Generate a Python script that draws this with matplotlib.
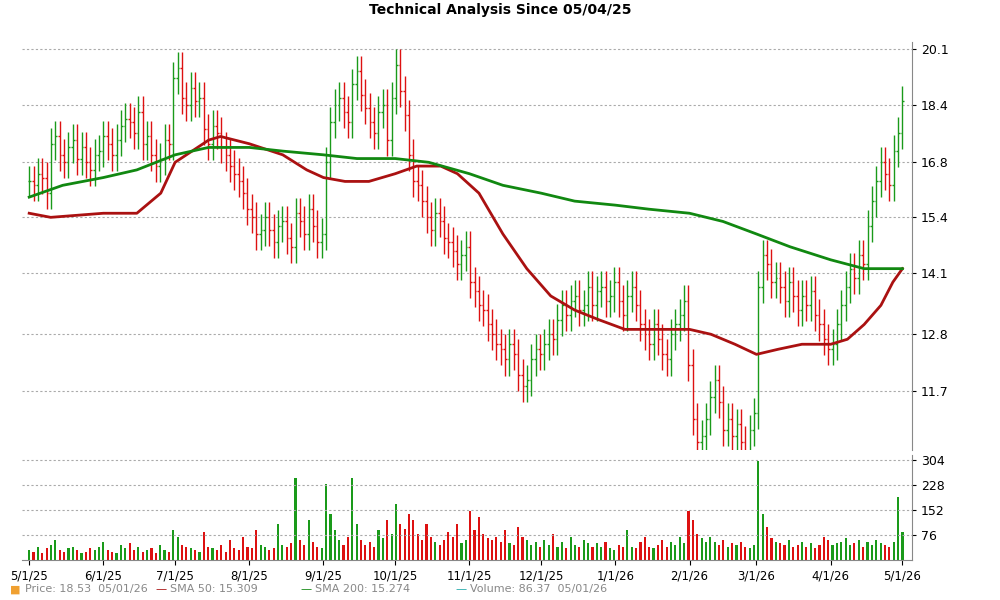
import numpy as np
import pandas as pd
import matplotlib.pyplot as plt
import matplotlib.dates as mdates

# daily closes, grouped roughly by week
close = [
    16.3, 16.2, 16.5, 16.4, 16.0,
    17.3, 17.5, 17.0, 16.8, 17.2, 17.4,
    16.9, 17.2, 16.8, 16.6, 17.0,
    17.1, 17.5, 17.3, 17.0, 17.4,
    17.8, 18.0, 17.9, 17.6, 18.2,
    17.3, 17.5, 17.0, 16.7, 16.9, 17.4, 17.3,
    19.2, 19.5, 18.6, 18.4, 18.9,
    18.5, 18.6, 17.7, 17.3, 17.8,
    17.6, 17.2, 17.0, 16.7, 16.5, 16.3,
    16.0, 15.6, 15.4, 15.0, 15.1,
    15.4, 15.1, 14.8, 15.2, 15.3, 14.9,
    14.7, 15.5, 15.3, 15.0, 15.6, 15.2, 14.8, 15.0,
    16.8, 17.9, 18.4, 18.6, 18.2,
    17.9, 19.0, 19.4, 18.7, 18.3,
    17.9, 17.6, 18.2, 18.4, 17.4, 18.6,
    19.6, 18.8, 18.1, 17.0, 16.3,
    16.2, 15.8, 15.4, 15.1, 15.5, 15.3,
    14.9, 14.8, 14.6, 14.3, 14.5, 14.7,
    13.9, 13.7, 13.4, 13.3, 13.0,
    12.8, 12.6, 12.5, 12.3, 12.6, 12.4,
    12.0, 11.8, 11.9, 12.3, 12.5, 12.4,
    12.6, 12.8, 12.7, 13.1, 13.4, 13.2,
    13.5, 13.6, 13.3, 13.4, 13.8, 13.4,
    13.7, 13.8, 13.5, 13.6, 13.9,
    13.5, 13.2, 13.6, 13.8, 13.4,
    13.0, 12.8, 12.6, 13.0, 12.7,
    12.4, 12.3, 12.8, 13.0, 13.2, 13.5,
    12.2, 11.2, 10.8, 10.9, 11.2,
    11.6, 11.9, 11.5, 11.0, 11.2,
    10.9, 11.1, 10.8, 10.6, 11.0, 11.3,
    13.8, 14.5, 14.3, 13.9, 14.0,
    13.8, 13.5, 13.9, 13.6, 13.3,
    13.6, 13.4, 13.7, 13.2, 13.0,
    12.7, 12.5, 12.6, 13.0, 13.4,
    13.8, 14.2, 14.0, 14.5, 14.3,
    15.2, 15.8, 16.3, 16.8, 16.5, 16.2, 17.1,
    17.6, 18.5,
]
volume = [
    30, 25, 40, 20, 35,
    45, 60, 30, 25, 35, 40,
    30, 20, 25, 35, 30,
    40, 55, 30, 25, 20,
    45, 35, 50, 30, 40,
    25, 30, 35, 20, 45, 30, 25,
    90, 70, 45, 40, 35,
    30, 25, 85, 40, 35,
    30, 45, 25, 60, 35, 30,
    70, 40, 35, 90, 45,
    40, 30, 35, 110, 45, 40,
    50, 250, 60, 45, 120, 55, 40, 35,
    230, 140, 90, 60, 45,
    70, 250, 110, 60, 45,
    55, 40, 90, 65, 120, 80,
    170, 110, 95, 140, 120,
    80, 60, 110, 70, 55, 45,
    60, 85, 70, 110, 50, 60,
    150, 90, 130, 80, 65,
    60, 70, 55, 90, 50, 45,
    100, 70, 60, 45, 55, 40,
    60, 45, 80, 40, 55, 35,
    70, 45, 40, 60, 50, 40,
    50, 40, 55, 35, 30,
    45, 40, 90, 40, 35,
    55, 70, 40, 35, 45,
    60, 40, 55, 45, 70, 50,
    150, 120, 80, 65, 55,
    70, 55, 45, 60, 40,
    50, 45, 55, 40, 35, 45,
    300, 140, 100, 65, 55,
    50, 45, 60, 40, 45,
    55, 40, 50, 35, 45,
    70, 60, 45, 50, 55,
    65, 45, 50, 60, 40,
    55, 45, 60, 50, 45, 40, 55,
    190, 86,
]

sma50_dates = ["2025-05-01", "2025-05-10", "2025-06-01", "2025-06-15", "2025-06-25",
               "2025-07-01", "2025-07-15", "2025-07-20", "2025-08-01", "2025-08-15",
               "2025-08-25", "2025-09-01", "2025-09-10", "2025-09-20", "2025-10-01",
               "2025-10-10", "2025-10-20", "2025-10-27", "2025-11-05", "2025-11-15",
               "2025-11-25", "2025-12-05", "2025-12-15", "2025-12-25", "2026-01-05",
               "2026-01-15", "2026-02-01", "2026-02-10", "2026-02-20", "2026-03-01",
               "2026-03-10", "2026-03-20", "2026-04-01", "2026-04-08", "2026-04-15",
               "2026-04-22", "2026-04-27", "2026-05-01"]
sma50 = [15.5, 15.4, 15.5, 15.5, 16.0, 16.8, 17.4, 17.5, 17.3, 17.0,
         16.6, 16.4, 16.3, 16.3, 16.5, 16.7, 16.7, 16.5, 16.0, 15.0,
         14.2, 13.6, 13.3, 13.1, 12.9, 12.9, 12.9, 12.8, 12.6, 12.4,
         12.5, 12.6, 12.6, 12.7, 13.0, 13.4, 13.9, 14.2]
sma200_dates = ["2025-05-01", "2025-05-15", "2025-06-01", "2025-06-15", "2025-07-01",
                "2025-07-15", "2025-08-01", "2025-08-15", "2025-09-01", "2025-09-15",
                "2025-10-01", "2025-10-15", "2025-11-01", "2025-11-15", "2025-12-01",
                "2025-12-15", "2026-01-01", "2026-01-15", "2026-02-01", "2026-02-15",
                "2026-03-01", "2026-03-15", "2026-04-01", "2026-04-15", "2026-05-01"]
sma200 = [15.9, 16.2, 16.4, 16.6, 17.0, 17.2, 17.2, 17.1, 17.0, 16.9,
          16.9, 16.8, 16.5, 16.2, 16.0, 15.8, 15.7, 15.6, 15.5, 15.3,
          15.0, 14.7, 14.4, 14.2, 14.2]

n = len(close)
t0 = pd.Timestamp("2025-05-01").value
t1 = pd.Timestamp("2026-05-01").value
dates = pd.to_datetime(np.linspace(t0, t1, n))
x = mdates.date2num(dates)
c = np.array(close)
o = np.r_[c[0], c[:-1]]
hi = np.maximum(o, c) * 1.025
lo = np.minimum(o, c) * 0.975
up = c >= o
col = np.where(up, "#1a9a1a", "#dd1111")

fig = plt.figure(figsize=(10, 6), dpi=100)
ax = fig.add_axes([0.022, 0.25, 0.89, 0.68])
av = fig.add_axes([0.022, 0.067, 0.89, 0.175], sharex=ax)

ax.set_yscale("log")
ax.vlines(x, lo, hi, colors=col, lw=1)
ax.hlines(o, x - 0.7, x, colors=col, lw=1)
ax.hlines(c, x, x + 0.7, colors=col, lw=1)
ax.plot(mdates.date2num(pd.to_datetime(sma50_dates)), sma50, color="#aa1111", lw=2)
ax.plot(mdates.date2num(pd.to_datetime(sma200_dates)), sma200, color="#118811", lw=2)

yt = [11.7, 12.8, 14.1, 15.4, 16.8, 18.4, 20.1]
ax.set_ylim(10.66, 20.32)
ax.set_yticks(yt)
ax.set_yticklabels([str(v) for v in yt])
ax.set_yticks([], minor=True)
ax.yaxis.tick_right()
ax.grid(axis="y", color="#aaaaaa", ls=(0, (2, 2)), lw=0.8)
ax.tick_params(axis="x", labelbottom=False, length=0)
ax.tick_params(axis="y", labelsize=9, length=3)
for s in ["top", "left", "bottom"]:
    ax.spines[s].set_visible(False)
ax.spines["right"].set_color("#888888")

av.bar(x, volume, width=0.9, color=col)
av.set_ylim(0, 320)
av.set_yticks([76, 152, 228, 304])
av.yaxis.tick_right()
av.grid(axis="y", color="#aaaaaa", ls=(0, (2, 2)), lw=0.8)
av.tick_params(axis="y", labelsize=9, length=3)
for s in ["top", "left"]:
    av.spines[s].set_visible(False)
av.spines["right"].set_color("#888888")
av.spines["bottom"].set_color("#888888")
xt = pd.date_range("2025-05-01", "2026-05-01", freq="MS")
av.set_xticks(mdates.date2num(xt))
av.set_xticklabels([f"{d.month}/1/{d.strftime('%y')}" for d in xt], fontsize=8.5)
av.set_xlim(mdates.date2num(pd.Timestamp("2025-04-28")), mdates.date2num(pd.Timestamp("2026-05-05")))

fig.suptitle("Technical Analysis Since 05/04/25", y=0.995, fontsize=10, fontweight="bold")

legend = [("■", "#f0a030", "Price: 18.53  05/01/26", 0.01),
          ("—", "#aa1111", "SMA 50: 15.309", 0.155),
          ("—", "#118811", "SMA 200: 15.274", 0.30),
          ("—", "#22aaaa", "Volume: 86.37  05/01/26", 0.455)]
for sym, cc, txt, xx in legend:
    fig.text(xx, 0.013, sym, color=cc, fontsize=8)
    fig.text(xx + 0.015, 0.013, txt, color="#888888", fontsize=8)

fig.savefig("out.png")
